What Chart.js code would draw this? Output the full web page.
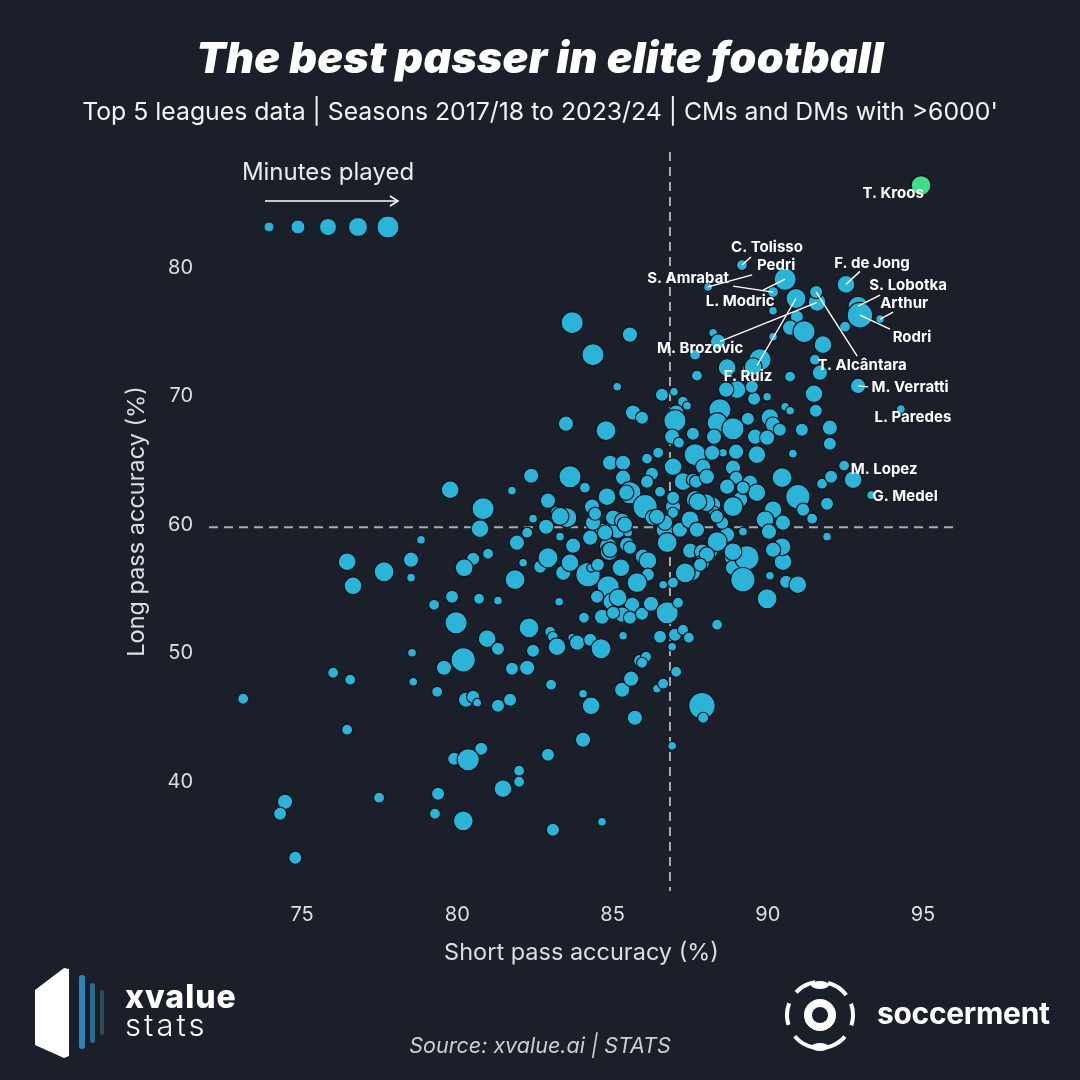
<!DOCTYPE html>
<html>
<head>
<meta charset="utf-8">
<script src="https://cdn.jsdelivr.net/npm/chart.js@4.4.1/dist/chart.umd.min.js"></script>
<style>
  body{margin:0;width:1080px;height:1080px;background:#1b1f29;overflow:hidden;position:relative;font-family:Inter,"Open Sans",sans-serif;color:#fff}
  #chartBox{position:absolute;left:0;top:0;width:1080px;height:1080px}
  h1{position:absolute;left:0;top:31px;width:1080px;margin:0;text-align:center;font-size:43px;font-weight:900;font-style:italic;letter-spacing:0.3px}
  .sub{position:absolute;left:0;top:96px;width:1080px;text-align:center;font-size:24.8px;color:#f2f2f2}
  .legendTxt{position:absolute;left:188px;top:157px;width:280px;text-align:center;font-size:24px;color:#eaeaea}
  #legendSvg{position:absolute;left:0;top:0}
  .source{position:absolute;left:0;top:1032px;width:1080px;text-align:center;font-size:21.5px;font-style:italic;color:#cfcfcf}
  .xv1{position:absolute;left:125px;top:977px;font-size:32px;font-weight:800;letter-spacing:1px}
  .xv2{position:absolute;left:125px;top:1006px;font-size:31px;font-weight:300;letter-spacing:3px}
  .soc{position:absolute;left:877px;top:995px;font-size:30px;font-weight:700;letter-spacing:-0.3px}
</style>
</head>
<body>
<div id="chartBox"><canvas id="chart" width="1080" height="1080"></canvas></div>
<h1>The best passer in elite football</h1>
<div class="sub">Top 5 leagues data | Seasons 2017/18 to 2023/24 | CMs and DMs with &gt;6000'</div>
<div class="legendTxt">Minutes played</div>
<svg id="legendSvg" width="1080" height="1080">
  <line x1="265" y1="201" x2="398" y2="201" stroke="#fff" stroke-width="1.5"/>
  <polyline points="390,196 398,201 390,206" fill="none" stroke="#fff" stroke-width="1.5"/>
  <g id="legendDots"></g>
  <!-- xvalue logo -->
  <polygon points="35,990 64,968 69,969 69,1056 64,1058 35,1045" fill="#ffffff"/>
  <rect x="79" y="975" width="6" height="74" rx="3" fill="#2b86b8"/>
  <rect x="90" y="983" width="5" height="60" rx="2.5" fill="#2a6c92"/>
  <rect x="100" y="990" width="4" height="45" rx="2" fill="#2f4b5d"/>
  <!-- soccerment logo -->
  <g fill="none" stroke="#fff">
    <circle cx="820" cy="1015" r="12" stroke-width="8"/>
    <circle cx="820" cy="1015" r="33" stroke-width="4" stroke-dasharray="22 13" transform="rotate(-20 820 1015)"/>
  </g>
  <ellipse cx="820" cy="985" rx="9" ry="4" fill="#fff"/>
  <ellipse cx="820" cy="1047" rx="9" ry="4" fill="#fff"/>
</svg>
<div class="xv1">xvalue</div>
<div class="xv2">stats</div>
<div class="soc">soccerment</div>
<div class="source">Source: xvalue.ai | STATS</div>
<script>
// Joueurs non annotés : précision passes courtes (%), longues (%), minutes jouées
const shortPass = [
  83.70,85.56,84.37,85.15,86.59,86.98,87.27,87.40,87.05,87.01,85.66,85.95,83.50,84.79,86.92,87.14,87.59,87.72,87.66,
  84.92,85.34,85.34,86.11,86.47,86.27,86.11,86.95,87.27,87.59,87.66,83.63,82.38,84.11,81.76,79.77,84.82,85.56,86.05,
  86.53,86.95,86.95,87.66,80.83,80.73,84.34,82.92,83.53,83.21,82.44,82.86,82.25,81.92,83.31,83.73,78.83,84.44,84.66,
  85.15,85.02,85.31,85.50,84.28,84.86,85.47,86.30,86.69,87.17,87.50,86.76,
  76.45,77.64,78.51,78.51,76.64,80.51,80.22,80.99,79.25,79.83,80.70,81.31,79.96,80.96,81.31,78.54,80.19,79.57,76.00,
  76.55,78.58,79.35,80.28,80.51,80.64,81.31,73.10,76.45,80.77,79.90,80.35,74.45,74.29,77.48,79.38,79.28,80.19,74.78,
  81.86,82.12,82.67,82.92,83.41,83.63,84.21,84.31,84.53,84.89,85.27,85.56,85.98,86.14,86.14,85.79,84.86,84.98,84.50,
  85.63,85.31,85.56,85.95,86.24,86.76,86.63,86.95,87.11,87.50,87.88,88.24,87.59,87.34,87.88,88.46,88.85,88.88,89.33,
  89.20,90.07,89.98,90.49,90.46,90.59,90.97,88.37,83.28,82.31,82.99,83.08,83.21,82.44,83.70,83.86,84.08,84.28,84.66,
  84.63,85.34,86.53,87.01,87.27,87.46,86.92,81.76,82.25,83.02,81.70,84.05,84.31,85.31,85.60,85.89,86.08,86.43,86.63,
  87.05,87.88,87.92,85.72,84.05,82.92,86.92,81.99,81.99,81.47,83.08,84.66,
  85.02,87.72,88.24,89.11,88.69,88.37,89.20,88.88,88.04,87.82,90.17,
  89.01,88.69,88.46,88.37,88.88,88.27,89.36,89.56,89.98,90.07,90.17,89.59,89.98,90.39,90.56,90.72,90.72,91.49,91.55,
  91.10,92.00,92.00,90.81,89.65,88.98,88.56,88.21,87.92,87.69,88.04,88.88,88.98,88.69,89.43,89.65,89.20,90.46,90.97,
  91.14,91.43,91.75,92.04,91.91,90.17,89.91,90.04,90.49,88.88,88.27,88.53,88.01,
  90.17,90.94,90.72,91.17,91.78,91.52,91.68,89.75,89.43,90.17,88.24,88.40,89.49,92.49,91.91,92.75,
  85.18,84.92,85.40,84.76,86.69,86.43,85.44,87.75,84.37,85.95,83.31,89.53,88.66,86.95,84.44,88.36
];
const longPass = [
  75.72,74.79,73.23,70.74,70.12,70.35,69.57,69.26,68.72,68.09,68.72,68.33,67.86,67.32,66.85,66.38,67.08,71.60,73.23,
  64.82,64.82,63.66,65.14,65.60,63.97,63.35,64.51,63.35,63.50,65.45,63.73,63.81,62.88,62.65,62.72,62.18,62.49,61.40,
  62.57,61.40,60.93,61.95,61.25,59.69,61.40,61.87,60.55,60.93,60.47,59.84,59.38,58.60,59.07,58.37,58.83,60.00,59.61,
  59.61,60.55,60.31,59.38,58.99,58.29,58.44,60.55,59.61,59.61,60.39,58.60,
  57.12,56.34,57.28,55.88,55.25,57.35,56.65,57.74,53.77,54.40,54.24,54.09,52.37,51.13,50.35,50.04,49.49,48.87,48.48,
  47.94,47.78,47.00,46.38,46.62,46.15,45.91,46.46,44.05,42.57,41.79,41.71,38.44,37.51,38.76,39.07,37.51,36.96,34.09,
  55.72,57.04,56.73,57.43,56.26,57.04,56.11,56.65,56.89,57.90,56.65,58.21,57.51,57.20,56.11,55.49,55.18,54.01,54.40,
  53.77,53.00,52.76,53.07,53.85,53.15,55.33,55.49,53.93,57.98,57.90,57.82,56.26,56.26,57.04,58.60,57.43,56.65,57.43,
  55.72,56.03,54.24,57.12,58.29,55.56,55.33,52.22,54.01,51.98,51.67,51.28,50.51,50.19,51.21,50.82,52.76,51.05,52.84,
  50.35,51.36,51.28,51.44,51.83,51.21,50.51,48.79,48.87,47.55,46.38,46.85,45.91,47.16,48.02,49.42,49.73,47.24,47.63,
  48.56,45.91,44.98,44.98,43.27,42.10,42.80,40.86,40.00,39.46,36.27,36.89,
  53.15,59.61,61.56,61.95,59.22,58.68,59.46,57.90,57.67,56.89,58.05,
  70.51,72.22,68.95,67.94,67.47,66.85,68.25,69.81,69.96,68.33,67.78,66.85,66.77,67.39,69.18,68.87,71.52,70.19,68.87,
  67.39,67.55,66.30,65.53,65.45,65.68,65.60,65.60,64.51,63.35,63.73,64.44,63.66,62.96,63.27,62.49,62.88,63.66,62.18,
  61.17,60.47,63.19,63.73,61.63,61.17,60.39,59.46,60.16,61.40,61.01,60.16,61.71,
  76.65,76.19,75.33,75.02,74.01,72.84,71.83,72.84,72.14,74.63,74.94,74.24,70.74,75.41,59.07,63.50,
  54.32,58.05,60.00,59.38,60.16,60.62,62.49,61.79,60.16,49.26,60.65,72.30,70.51,62.10,60.86,60.64
];
const minutesPlayed = [
  13800,10400,13800,7100,9300,7100,8200,7100,10400,13800,10400,9300,10400,12700,10400,8200,9300,8200,8200,
  10400,10400,10400,8200,8200,9300,9300,11600,11600,9300,13800,13800,10400,8200,7100,11600,11600,13800,14900,
  8200,10400,8200,11600,13800,11600,10400,10400,12700,9300,7100,10400,8200,10400,7100,10400,7100,10400,9300,
  11600,10400,10400,7100,10400,11600,10400,10400,11600,10400,11600,12700,
  11600,12700,10400,7100,11600,9300,11600,8200,8200,9300,8200,7100,13800,11600,9300,7100,14900,10400,8200,
  8200,7100,8200,10400,9300,7100,9300,8200,8200,9300,9300,13800,10400,9300,8200,9300,8200,12700,9300,
  12700,7100,9300,12700,10400,11600,14900,7100,9300,11600,11600,9300,10400,11600,9300,12700,13800,11600,9300,
  10400,10400,9300,9300,10400,13800,7100,8200,8200,10400,10400,7100,10400,12700,10400,10400,10400,10400,14900,
  14900,7100,12700,11600,11600,9300,11600,8200,7100,12700,8200,8200,11600,9300,7100,10400,8200,9300,10400,
  12700,7100,9300,9300,8200,8200,7100,9300,10400,8200,9300,7100,11600,10400,10400,9300,8200,7100,8200,
  8200,16000,8200,10400,10400,9300,7100,8200,8200,11600,9300,7100,
  9300,10400,10400,10400,10400,12700,7100,11600,10400,9300,10400,
  11600,11600,13800,12700,13800,10400,9300,9300,7100,11600,10400,10400,10400,9300,7100,7100,8200,11600,9300,
  9300,10400,9300,7100,11600,10400,7100,10400,10400,9300,10400,10400,9300,10400,10400,11600,9300,12700,14900,
  9300,8200,8200,9300,9300,11600,11600,10400,10400,12700,8200,9300,11600,
  7100,9300,10400,13800,11600,8200,10400,13800,10400,7100,7100,10400,9300,8200,7100,11600,
  11600,10400,10400,10400,10400,10400,10400,11600,10400,8200,11600,11600,10400,9300,9300,9300
];

// Joueurs annotés
const playerNames = ['T. Kroos','C. Tolisso','Pedri','S. Amrabat','L. Modric','F. de Jong','S. Lobotka','Arthur','Rodri',
  'M. Brozovic','F. Ruiz','T. Alcântara','M. Verratti','L. Paredes','M. Lopez','G. Medel'];
const playerShort = [94.94,89.17,88.08,90.17,90.56,92.52,92.91,93.62,92.97,91.59,90.91,91.56,92.91,94.29,92.46,93.33];
const playerLong = [86.4,80.2,78.5,78.1,79.1,78.7,77.0,76.0,76.3,77.3,77.6,78.1,70.8,69.0,64.6,62.3];
const playerMinutes = [12700,8200,7100,8200,13800,11600,12700,7100,15500,11600,12700,9300,10400,7100,8200,7100];
const highlight = 'T. Kroos';

// Moyennes (lignes pointillées)
const avgShort = 86.85;
const avgLong = 59.8;

const xTicks = [75,80,85,90,95];
const yTicks = [40,50,60,70,80];
const legendMinutes = [7700,9700,11200,12200,13700];

// placement des étiquettes (px par rapport au point)
const labelPos = [
  {dx:-28,dy:8},
  {dx:25,dy:-18,line:[9,-8]},
  {dx:68,dy:-21,line:[44,-12]},
  {dx:-85,dy:-14,line:[-40,-6]},
  {dx:-45,dy:22,line:[-22,11]},
  {dx:26,dy:-21,line:[14,-13]},
  {dx:50,dy:-21,line:[22,-11]},
  {dx:24,dy:-16,line:[13,-7]},
  {dx:52,dy:22,line:[30,14]},
  {dx:-117,dy:46,line:[-97,39]},
  {dx:-48,dy:78,line:[-39,67]},
  {dx:46,dy:73,line:[41,64]},
  {dx:52,dy:2,line:[10,1]},
  {dx:12,dy:8},
  {dx:40,dy:4},
  {dx:34,dy:1}
];

const radius = m => 3.3 + (m - 6000) / 1000;

// légende des tailles
const legendX = [269,298,328,358,388];
const dotsG = document.getElementById('legendDots');
legendMinutes.forEach((m,i)=>{
  const c = document.createElementNS('http://www.w3.org/2000/svg','circle');
  c.setAttribute('cx',legendX[i]); c.setAttribute('cy',227); c.setAttribute('r',radius(m));
  c.setAttribute('fill','#2bb4d8'); c.setAttribute('stroke','#10141b'); c.setAttribute('stroke-width','1');
  dotsG.appendChild(c);
});

const others = shortPass.map((x,i)=>({x, y:longPass[i], r:radius(minutesPlayed[i])}));
playerNames.forEach((n,i)=>{
  if(n!==highlight) others.push({x:playerShort[i], y:playerLong[i], r:radius(playerMinutes[i])});
});
const hi = playerNames.indexOf(highlight);
const star = [{x:playerShort[hi], y:playerLong[hi], r:radius(playerMinutes[hi])}];

const refLines = {
  id:'refLines',
  beforeDatasetsDraw(chart){
    const {ctx, chartArea:a, scales:{x,y}} = chart;
    ctx.save();
    ctx.strokeStyle = '#a7abb2'; ctx.lineWidth = 2; ctx.setLineDash([9,6]);
    const vx = x.getPixelForValue(avgShort), hy = y.getPixelForValue(avgLong);
    ctx.beginPath(); ctx.moveTo(vx,a.top); ctx.lineTo(vx,a.bottom); ctx.stroke();
    ctx.beginPath(); ctx.moveTo(a.left,hy); ctx.lineTo(a.right,hy); ctx.stroke();
    ctx.restore();
  }
};

const nameLabels = {
  id:'nameLabels',
  afterDatasetsDraw(chart){
    const {ctx, scales:{x,y}} = chart;
    ctx.save();
    ctx.font = '700 15px Inter';
    ctx.fillStyle = '#fff'; ctx.strokeStyle = '#fff'; ctx.lineWidth = 1.4;
    ctx.textAlign = 'center'; ctx.textBaseline = 'middle';
    playerNames.forEach((n,i)=>{
      const px = x.getPixelForValue(playerShort[i]), py = y.getPixelForValue(playerLong[i]);
      const o = labelPos[i];
      if(o.line){ ctx.beginPath(); ctx.moveTo(px+o.line[0],py+o.line[1]); ctx.lineTo(px,py); ctx.stroke(); }
      ctx.fillText(n, px+o.dx, py+o.dy);
    });
    ctx.restore();
  }
};

const tickFont = {family:'Inter', size:20};
new Chart(document.getElementById('chart'), {
  type:'bubble',
  data:{ datasets:[
    {data:others, backgroundColor:'#2bb4d8', borderColor:'#10141b', borderWidth:1.2},
    {data:star, backgroundColor:'#3fdc8a', borderColor:'#10141b', borderWidth:1.5}
  ]},
  options:{
    responsive:false, animation:false, events:[],
    layout:{padding:{left:110,right:126,top:152,bottom:109}},
    plugins:{legend:{display:false}, tooltip:{enabled:false}},
    scales:{
      x:{type:'linear', min:72, max:96,
        grid:{display:false, drawTicks:false}, border:{display:false},
        afterBuildTicks:s=>{ s.ticks = xTicks.map(v=>({value:v})); },
        afterFit:s=>{ s.height = 80; },
        ticks:{color:'#dedede', font:tickFont, padding:12},
        title:{display:true, text:'Short pass accuracy (%)', color:'#dedede', font:{family:'Inter', size:23.5}, padding:{top:0,bottom:4}}},
      y:{type:'linear', min:31.5, max:89,
        grid:{display:false, drawTicks:false}, border:{display:false},
        afterBuildTicks:s=>{ s.ticks = yTicks.map(v=>({value:v})); },
        afterFit:s=>{ s.width = 99; },
        ticks:{color:'#dedede', font:tickFont, padding:16},
        title:{display:true, text:'Long pass accuracy (%)', color:'#dedede', font:{family:'Inter', size:23.5}, padding:{top:13,bottom:0}}}
    }
  },
  plugins:[refLines, nameLabels]
});
</script>
</body>
</html>
